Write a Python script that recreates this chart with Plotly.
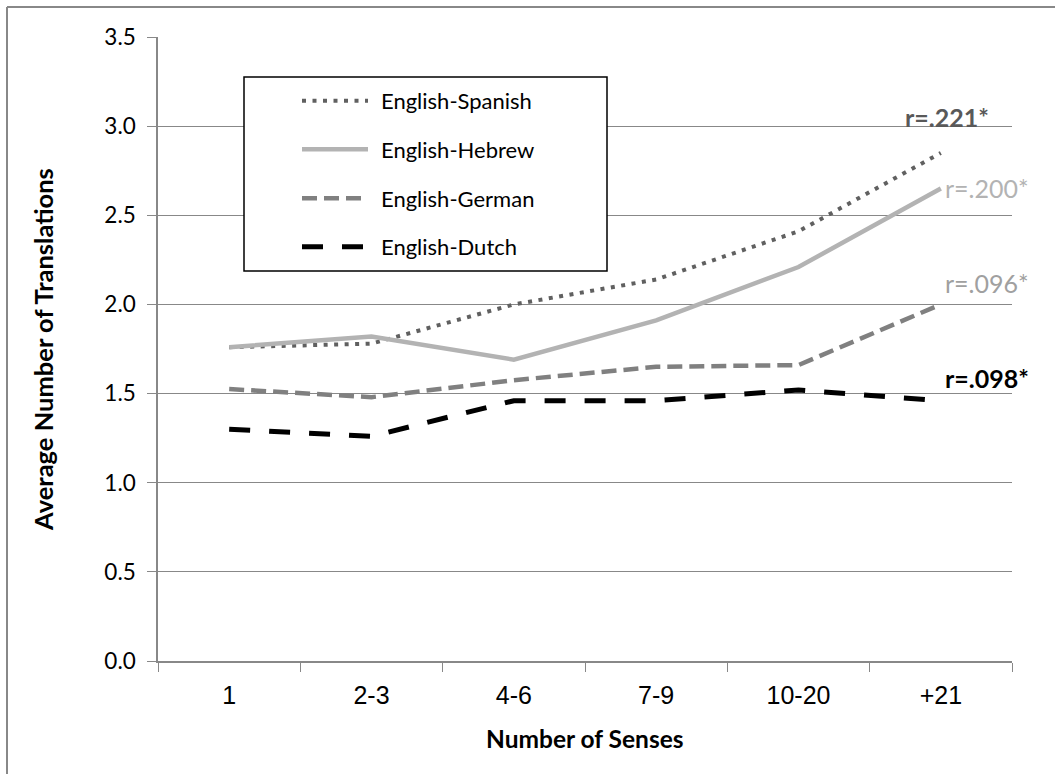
import plotly.graph_objects as go

categories = ["1", "2-3", "4-6", "7-9", "10-20", "+21"]
series_names = ["English-Spanish", "English-Hebrew", "English-German", "English-Dutch"]
spanish = [1.76, 1.78, 2.00, 2.14, 2.41, 2.85]
hebrew = [1.76, 1.82, 1.69, 1.91, 2.21, 2.65]
german = [1.525, 1.48, 1.575, 1.65, 1.66, 2.00]
dutch = [1.30, 1.26, 1.46, 1.46, 1.52, 1.46]
r_labels = ["r=.221*", "r=.200*", "r=.096*", "r=.098*"]
y_ticks = [0.0, 0.5, 1.0, 1.5, 2.0, 2.5, 3.0, 3.5]

values = [spanish, hebrew, german, dutch]
colors = ["#606060", "#b3b3b3", "#808080", "#000000"]
widths = [4, 4.5, 4.5, 5]
dashes = ["4px,6.5px", "solid", "15px,7px", "21px,19px"]

W, H = 1055, 774
L, R, T, B = 158, 1012, 37, 661  # plot area in page pixels
pw, ph = R - L, B - T


def px(x):
    return (x - L) / pw


def py(y):
    return (B - y) / ph


fig = go.Figure()
for name, vals, c, w, d in zip(series_names, values, colors, widths, dashes):
    fig.add_trace(go.Scatter(x=categories, y=vals, mode="lines", name=name,
                             line=dict(color=c, width=w, dash=d),
                             showlegend=False, hoverinfo="skip"))

grid = "#888888"
shapes = []
annotations = []

# outer border (top and left)
shapes.append(dict(type="line", xref="paper", yref="paper", x0=px(7), x1=px(1055),
                   y0=py(7), y1=py(7), line=dict(color=grid, width=2)))
shapes.append(dict(type="line", xref="paper", yref="paper", x0=px(7), x1=px(7),
                   y0=py(7), y1=py(774), line=dict(color=grid, width=2)))

# legend box
shapes.append(dict(type="rect", xref="paper", yref="paper", x0=px(244), x1=px(607),
                   y0=py(77), y1=py(271), line=dict(color="#000000", width=1.5),
                   fillcolor="white", layer="above"))
leg_y = [100.7, 149.3, 198.3, 246.7]
for name, c, w, d, ly in zip(series_names, colors, widths, dashes, leg_y):
    shapes.append(dict(type="line", xref="paper", yref="paper", x0=px(302), x1=px(368),
                       y0=py(ly), y1=py(ly), line=dict(color=c, width=w, dash=d),
                       layer="above"))
    annotations.append(dict(text=name, xref="paper", yref="paper", x=px(379), y=py(ly),
                            xanchor="left", yanchor="middle", showarrow=False,
                            font=dict(family="Lato", size=22, color="#000000")))

# r annotations
r_pos = [(947, 117), (987, 188), (987, 283), (987, 378)]
r_colors = ["#595959", "#b3b3b3", "#a0a0a0", "#000000"]
r_weights = ["bold", "normal", "normal", "bold"]
for t, (x, y), c, wt in zip(r_labels, r_pos, r_colors, r_weights):
    annotations.append(dict(text=t, xref="paper", yref="paper", x=px(x), y=py(y),
                            xanchor="center", yanchor="middle", showarrow=False,
                            font=dict(family="Lato", size=25, color=c, weight=wt)))

# axis titles
annotations.append(dict(text="Number of Senses", xref="paper", yref="paper",
                        x=px(585), y=py(738), xanchor="center", yanchor="middle",
                        showarrow=False,
                        font=dict(family="Lato", size=24.5, color="#000000", weight="bold")))
annotations.append(dict(text="Average Number of Translations", xref="paper", yref="paper",
                        x=px(43), y=py(350), xanchor="center", yanchor="middle",
                        showarrow=False, textangle=-90,
                        font=dict(family="Lato", size=25.5, color="#000000", weight="bold")))

fig.update_layout(
    width=W, height=H,
    margin=dict(l=L, r=W - R, t=T, b=H - B),
    paper_bgcolor="white", plot_bgcolor="white",
    shapes=shapes, annotations=annotations,
    showlegend=False,
    xaxis=dict(type="category", categoryorder="array", categoryarray=categories,
               range=[-0.5, 5.5], tickson="boundaries", ticks="outside", ticklen=9,
               tickcolor=grid, tickwidth=1, showline=True, linecolor=grid, linewidth=1.5,
               showgrid=False, zeroline=False, ticklabelstandoff=11,
               tickfont=dict(family="Liberation Sans", size=25, color="#000000")),
    yaxis=dict(range=[0, 3.5], tickvals=y_ticks, ticktext=[f"{v:.1f}" for v in y_ticks],
               ticks="outside", ticklen=9, tickcolor=grid, tickwidth=1,
               showline=True, linecolor=grid, linewidth=1.5,
               showgrid=True, gridcolor=grid, gridwidth=1.3, zeroline=False,
               ticklabelstandoff=7,
               tickfont=dict(family="Lato", size=22.5, color="#000000")),
)

fig.write_html("out.html", config={"displayModeBar": False},
               post_script="document.body.style.margin='0';document.body.style.overflow='hidden';")
